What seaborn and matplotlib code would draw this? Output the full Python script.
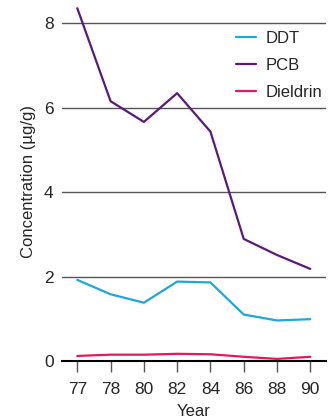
import matplotlib
matplotlib.use("Agg")
import matplotlib.pyplot as plt
import seaborn as sns
import pandas as pd

years = ["77", "78", "80", "82", "84", "86", "88", "90"]
ddt = [1.92, 1.58, 1.38, 1.88, 1.86, 1.10, 0.96, 0.99]
pcb = [8.35, 6.15, 5.66, 6.34, 5.43, 2.89, 2.51, 2.18]
dieldrin = [0.12, 0.15, 0.15, 0.17, 0.16, 0.10, 0.05, 0.10]
series_names = ["DDT", "PCB", "Dieldrin"]
colors = ["#1ba8de", "#5a1a7c", "#e3195c"]

rows = []
for name, vals in zip(series_names, [ddt, pcb, dieldrin]):
    for y, v in zip(years, vals):
        rows.append({"Year": y, "Concentration": v, "Compound": name})
df = pd.DataFrame(rows)

sns.set_theme(style="white")
plt.rcParams["font.family"] = ["Liberation Sans", "DejaVu Sans"]

fig = plt.figure(figsize=(3.36, 4.19), dpi=100)
ax = fig.add_axes([0.1845, 0.1384, 0.7855, 0.857])

for v in [2, 4, 6, 8]:
    ax.axhline(v, color="#555555", lw=1.0, zorder=0)

sns.lineplot(data=df, x="Year", y="Concentration", hue="Compound",
             hue_order=series_names, palette=colors, linewidth=1.6,
             ax=ax, sort=False)

ax.set_xlim(-0.46, 7.47)
ax.set_ylim(0, 8.5)
ax.set_yticks([0, 2, 4, 6, 8])
ax.set_yticklabels(["0", "2", "4", "6", "8"])
ax.tick_params(axis="y", length=0, pad=6, labelsize=12.5)
ax.tick_params(axis="x", direction="out", length=8, width=1, color="#555555",
               pad=7, labelsize=12.5, bottom=True)

for s in ["top", "right", "left"]:
    ax.spines[s].set_visible(False)
ax.spines["bottom"].set_color("black")
ax.spines["bottom"].set_linewidth(1.5)

ax.set_xlabel("Year", fontsize=12, labelpad=5)
ax.set_ylabel("Concentration (\u00b5g/g)", fontsize=12, labelpad=6)

leg = ax.legend(loc="upper right", bbox_to_anchor=(1.045, 0.96), frameon=False,
                fontsize=12, handlelength=1.2, handletextpad=0.6,
                labelspacing=0.72)
for h in leg.get_lines():
    h.set_linewidth(1.6)

fig.savefig("out.png", dpi=100)
